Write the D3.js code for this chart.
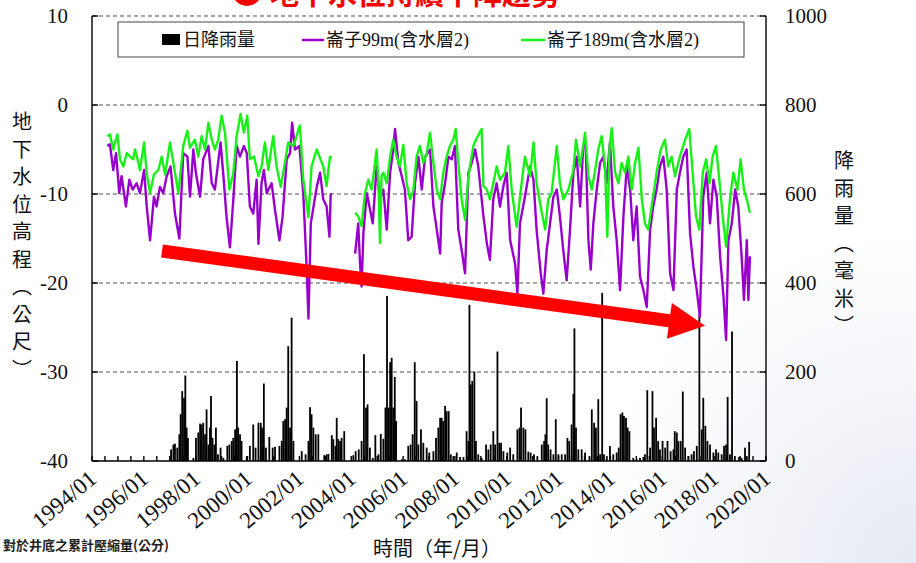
<!DOCTYPE html>
<html>
<head>
<meta charset="utf-8">
<script src="https://cdn.jsdelivr.net/npm/d3@7"></script>
<style>
body { margin: 0; background: #fff; }
svg { display: block; }
</style>
</head>
<body>
<div id="chart"></div>
<script>
// ---- data (decimal year, value) ----
// 崙子99m (含水層2), metres; null marks the 2003-2004 gap
var well99 = [
  [1994.59,-4.6],[1994.69,-4.4],[1994.82,-7.3],[1994.93,-5.4],[1995.05,-9.9],[1995.14,-8],[1995.31,-11.4],
  [1995.44,-8.4],[1995.57,-9.5],[1995.72,-8.8],[1995.85,-9.9],[1996.01,-7.3],[1996.11,-11.4],[1996.24,-15.2],
  [1996.39,-10.3],[1996.49,-11.4],[1996.62,-9.2],[1996.75,-9.9],[1996.88,-8],[1997.03,-6.9],[1997.20,-12.2],
  [1997.37,-15],[1997.52,-5.4],[1997.68,-5.8],[1997.78,-10.3],[1997.91,-5],[1998.01,-7.7],[1998.17,-10.3],
  [1998.29,-6.1],[1998.49,-4.6],[1998.62,-8.8],[1998.74,-9.5],[1998.96,-4.2],[1999.07,-8],[1999.19,-12.6],
  [1999.32,-16],[1999.45,-10.7],[1999.58,-4.6],[1999.71,-5.8],[1999.86,-4.6],[1999.97,-5.4],[2000.09,-11.4],
  [2000.22,-12.2],[2000.35,-8.4],[2000.42,-15.6],[2000.54,-8.8],[2000.63,-7.3],[2000.74,-9.9],[2000.93,-8.8],
  [2001.06,-11.8],[2001.23,-15.2],[2001.35,-12.6],[2001.51,-6.1],[2001.64,-5.4],[2001.72,-2],[2001.83,-5],
  [2002.00,-4.6],[2002.15,-9.9],[2002.28,-18.3],[2002.35,-24],[2002.44,-13.3],[2002.67,-9.2],[2002.80,-7.6],
  [2002.92,-10.6],[2003.05,-11.4],[2003.16,-14.8],[2003.21,-9.9],
  [2003.70,null],
  [2004.15,-16.7],[2004.27,-13.3],[2004.34,-17.8],[2004.40,-20.4],[2004.47,-14.4],[2004.60,-9.9],[2004.83,-13.3],
  [2004.98,-6.9],[2005.11,-10.6],[2005.24,-9.5],[2005.37,-14],[2005.50,-7.6],[2005.62,-5],[2005.69,-2.7],
  [2005.82,-6.5],[2005.95,-8],[2006.07,-9.5],[2006.20,-15.2],[2006.33,-14.8],[2006.46,-8.8],[2006.59,-5.8],
  [2006.72,-9.5],[2006.85,-5.8],[2007.04,-5],[2007.17,-11.4],[2007.30,-14],[2007.43,-16.7],[2007.49,-11],
  [2007.62,-8.8],[2007.75,-5.8],[2007.88,-6.1],[2008.00,-4.6],[2008.13,-14],[2008.26,-16.3],[2008.39,-18.9],
  [2008.52,-7.6],[2008.65,-6.5],[2008.78,-5],[2008.90,-6.9],[2009.10,-12.5],[2009.23,-15.5],[2009.35,-17.4],
  [2009.48,-10.6],[2009.61,-8.8],[2009.74,-11.4],[2009.87,-9.1],[2010.00,-7.6],[2010.13,-15.2],[2010.32,-17.8],
  [2010.41,-21.2],[2010.51,-13.3],[2010.70,-10.3],[2010.90,-6.9],[2011.03,-8.4],[2011.15,-14],[2011.31,-18.9],
  [2011.41,-21.2],[2011.54,-16.3],[2011.67,-13.3],[2011.80,-10.3],[2011.93,-9.5],[2012.05,-12.5],[2012.18,-16.3],
  [2012.31,-19.7],[2012.44,-14],[2012.57,-7.6],[2012.70,-5.8],[2012.83,-11.4],[2012.95,-4.6],[2013.04,-4.2],
  [2013.15,-15.2],[2013.24,-18.5],[2013.34,-13.3],[2013.47,-9.5],[2013.60,-6.5],[2013.73,-5.8],[2013.85,-8.8],
  [2013.98,-4.2],[2014.11,-11.4],[2014.24,-15.2],[2014.37,-20.8],[2014.50,-12.5],[2014.63,-6.9],[2014.76,-9.5],
  [2014.88,-15.2],[2015.01,-11.4],[2015.14,-19.3],[2015.27,-20.8],[2015.40,-22.7],[2015.53,-14],[2015.65,-11.4],
  [2015.78,-9.5],[2015.91,-6.9],[2016.04,-5.8],[2016.17,-9.5],[2016.30,-18.9],[2016.43,-20.8],[2016.56,-9.5],
  [2016.68,-7.6],[2016.81,-5.8],[2016.94,-5],[2017.07,-14.4],[2017.20,-18.2],[2017.33,-20.8],[2017.45,-23.8],
  [2017.58,-10.3],[2017.71,-7.6],[2017.84,-13.3],[2017.97,-8.4],[2018.10,-10.3],[2018.23,-17],[2018.36,-21.5],
  [2018.46,-26.4],[2018.55,-15.2],[2018.68,-13.3],[2018.81,-9.5],[2018.93,-11.4],[2019.06,-17],[2019.15,-21.9],
  [2019.26,-15.2],[2019.32,-21.9],[2019.38,-17]
];

// 崙子189m (含水層2), metres
var well189 = [
  [1994.59,-3.5],[1994.69,-3.3],[1994.82,-5],[1994.98,-3.3],[1995.08,-6.1],[1995.21,-6.9],[1995.34,-5.4],
  [1995.47,-5.8],[1995.59,-6.1],[1995.66,-5],[1995.79,-6.5],[1995.85,-7.3],[1996.01,-4.2],[1996.11,-7.7],
  [1996.24,-9.9],[1996.39,-7.8],[1996.56,-7.3],[1996.69,-5.8],[1996.82,-7.8],[1997.01,-4.2],[1997.16,-6.9],
  [1997.33,-9.9],[1997.52,-4.6],[1997.68,-2.9],[1997.78,-4.8],[1997.97,-3.9],[1998.10,-5.8],[1998.23,-3.5],
  [1998.36,-5],[1998.49,-2],[1998.62,-3.9],[1998.74,-5],[1998.87,-3.9],[1999.00,-1.2],[1999.13,-3.1],
  [1999.30,-9.5],[1999.45,-7.7],[1999.58,-3.5],[1999.73,-1],[1999.86,-3.1],[1999.99,-1.2],[2000.09,-6.1],
  [2000.25,-5.8],[2000.42,-8],[2000.54,-6.9],[2000.67,-4.2],[2000.80,-7.3],[2000.99,-3.5],[2001.12,-6.9],
  [2001.28,-9.2],[2001.44,-6.5],[2001.57,-4.2],[2001.77,-4.6],[2002.02,-2.3],[2002.15,-8.4],[2002.35,-12.6],
  [2002.47,-6.9],[2002.67,-5],[2002.92,-6.9],[2003.05,-9.1],[2003.18,-5.8],[2003.25,-5.9],
  [2003.70,null],
  [2004.15,-12.1],[2004.27,-12.5],[2004.40,-13.6],[2004.53,-9.9],[2004.66,-8.4],[2004.79,-9.5],[2004.98,-5],
  [2005.05,-9.1],[2005.11,-15.5],[2005.17,-8],[2005.24,-7.6],[2005.37,-8.8],[2005.50,-5.8],[2005.62,-3.9],
  [2005.75,-5.8],[2005.88,-6.9],[2006.01,-4.5],[2006.14,-8.8],[2006.27,-10.6],[2006.40,-9.5],[2006.52,-5.8],
  [2006.65,-4.6],[2006.78,-6.5],[2006.91,-5.4],[2007.04,-3.1],[2007.17,-6.5],[2007.30,-9.5],[2007.43,-10.6],
  [2007.55,-7.6],[2007.68,-5.8],[2007.81,-4.6],[2007.94,-3.9],[2008.03,-2.7],[2008.13,-6.5],[2008.26,-10.6],
  [2008.39,-12.9],[2008.52,-8],[2008.71,-4.6],[2008.81,-3.9],[2009.03,-2.7],[2009.10,-9.1],[2009.23,-9.5],
  [2009.35,-10.6],[2009.48,-8.8],[2009.61,-6.9],[2009.74,-8.4],[2009.93,-7.6],[2010.06,-4.6],[2010.19,-9.5],
  [2010.38,-13.7],[2010.51,-10.3],[2010.70,-5.8],[2010.90,-8],[2011.03,-4.2],[2011.15,-8.8],[2011.35,-12.1],
  [2011.48,-14],[2011.60,-10.6],[2011.73,-9.9],[2011.93,-4.6],[2012.05,-8.8],[2012.18,-10.6],[2012.38,-9.5],
  [2012.57,-7.3],[2012.67,-3.9],[2012.83,-6.9],[2013.02,-3.1],[2013.15,-8],[2013.28,-9.5],[2013.41,-7.3],
  [2013.53,-5],[2013.66,-3.5],[2013.79,-6.9],[2013.88,-14.8],[2013.96,-5],[2014.05,-2.6],[2014.18,-7.6],
  [2014.31,-8.8],[2014.43,-6.5],[2014.56,-7.6],[2014.69,-5.8],[2014.82,-9.5],[2014.95,-6.5],[2015.08,-4.8],
  [2015.21,-10.6],[2015.33,-13.3],[2015.46,-14],[2015.59,-11.4],[2015.78,-7.6],[2015.94,-5],[2016.10,-3.9],
  [2016.23,-6.9],[2016.36,-5.8],[2016.49,-8],[2016.68,-5.8],[2016.88,-3.9],[2017.04,-2.7],[2017.17,-7.6],
  [2017.30,-12.5],[2017.43,-14],[2017.56,-7.6],[2017.69,-6.1],[2017.82,-8.8],[2017.94,-5.8],[2018.07,-4.6],
  [2018.20,-8.4],[2018.33,-12.5],[2018.46,-15.9],[2018.61,-10.6],[2018.74,-7.6],[2018.90,-9.5],[2019.02,-6.1],
  [2019.15,-9.5],[2019.26,-10.6],[2019.38,-12.1]
];

// 日降雨量, mm
var rainfall = [
  [1997.05,26],[1997.14,37],[1997.20,39],[1997.29,30],[1997.37,60],[1997.42,105],[1997.48,157],[1997.55,142],
  [1997.60,192],[1997.65,75],[1997.70,52],[1997.91,7],[1998.01,52],[1998.10,64],[1998.17,84],[1998.23,82],
  [1998.29,86],[1998.36,60],[1998.42,116],[1998.49,37],[1998.55,75],[1998.59,146],[1998.65,52],[1998.72,37],
  [1998.78,75],[1998.86,15],[1998.96,30],[1999.07,7],[1999.22,34],[1999.30,37],[1999.39,45],[1999.45,52],
  [1999.52,71],[1999.59,225],[1999.64,75],[1999.71,60],[1999.77,45],[1999.97,11],[2000.09,34],[2000.22,82],
  [2000.31,30],[2000.42,86],[2000.51,86],[2000.56,75],[2000.63,174],[2000.71,30],[2000.84,54],[2000.97,30],
  [2001.06,32],[2001.23,34],[2001.32,45],[2001.38,90],[2001.45,94],[2001.51,120],[2001.57,258],[2001.64,75],
  [2001.70,322],[2001.77,45],[2002.09,22],[2002.24,15],[2002.35,45],[2002.41,121],[2002.47,105],[2002.54,75],
  [2002.63,60],[2002.73,60],[2002.96,13],[2003.05,15],[2003.12,16],[2003.25,58],[2003.31,49],[2003.39,34],
  [2003.44,97],[2003.50,49],[2003.57,45],[2003.63,52],[2003.73,67],[2004.08,13],[2004.17,22],[2004.29,26],
  [2004.40,45],[2004.49,240],[2004.57,120],[2004.63,127],[2004.72,30],[2004.83,7],[2004.93,58],[2005.05,15],
  [2005.14,61],[2005.24,50],[2005.32,120],[2005.38,371],[2005.44,120],[2005.50,222],[2005.56,232],[2005.62,120],
  [2005.68,189],[2005.73,90],[2005.95,4],[2006.07,4],[2006.20,34],[2006.29,37],[2006.37,60],[2006.45,222],
  [2006.52,135],[2006.59,37],[2006.69,71],[2006.78,41],[2006.91,30],[2007.01,19],[2007.17,22],[2007.27,52],
  [2007.36,75],[2007.43,97],[2007.49,97],[2007.55,90],[2007.62,124],[2007.68,112],[2007.76,112],[2007.84,15],
  [2007.94,11],[2008.07,19],[2008.20,9],[2008.33,9],[2008.45,67],[2008.52,45],[2008.56,351],[2008.61,172],
  [2008.67,180],[2008.75,201],[2008.81,45],[2008.90,15],[2009.03,7],[2009.20,37],[2009.29,26],[2009.38,37],
  [2009.48,67],[2009.55,37],[2009.64,246],[2009.71,41],[2009.78,41],[2009.87,22],[2010.02,19],[2010.13,30],
  [2010.25,15],[2010.41,71],[2010.49,75],[2010.55,120],[2010.64,75],[2010.72,71],[2010.83,21],[2010.92,19],
  [2011.05,15],[2011.18,11],[2011.35,37],[2011.44,45],[2011.49,60],[2011.54,141],[2011.60,37],[2011.69,26],
  [2011.80,15],[2011.89,94],[2011.99,15],[2012.12,15],[2012.25,15],[2012.34,52],[2012.41,45],[2012.50,82],
  [2012.57,151],[2012.61,298],[2012.67,75],[2012.76,26],[2012.89,26],[2013.02,19],[2013.19,11],[2013.28,116],
  [2013.37,86],[2013.44,75],[2013.53,139],[2013.60,15],[2013.68,378],[2013.75,15],[2013.86,11],[2013.98,34],
  [2014.11,15],[2014.24,19],[2014.32,30],[2014.39,105],[2014.46,109],[2014.52,101],[2014.60,97],[2014.66,75],
  [2014.73,67],[2014.88,7],[2015.01,4],[2015.14,7],[2015.27,9],[2015.33,15],[2015.42,159],[2015.53,30],
  [2015.62,157],[2015.68,75],[2015.76,97],[2015.84,45],[2015.91,26],[2016.01,45],[2016.11,30],[2016.20,45],
  [2016.32,22],[2016.43,26],[2016.48,67],[2016.56,64],[2016.62,45],[2016.71,45],[2016.79,156],[2016.88,30],
  [2017.01,11],[2017.13,15],[2017.22,22],[2017.33,34],[2017.43,330],[2017.52,71],[2017.58,142],[2017.66,79],
  [2017.74,45],[2017.84,37],[2017.97,19],[2018.07,26],[2018.16,19],[2018.29,15],[2018.38,34],[2018.46,37],
  [2018.52,144],[2018.61,15],[2018.69,291],[2018.80,11],[2018.96,9],[2019.06,7],[2019.19,30],[2019.26,11],
  [2019.35,43]
];

var levelTicks = [-40, -30, -20, -10, 0, 10];
var rainTicks = [0, 200, 400, 600, 800, 1000];
var yearLabels = [1994, 1996, 1998, 2000, 2002, 2004, 2006, 2008, 2010, 2012, 2014, 2016, 2018, 2020];
var leftTitle = ['地', '下', '水', '位', '高', '程', '︵', '公', '尺', '︶'];
var rightTitle = ['降', '雨', '量', '︵', '毫', '米', '︶'];
// trend arrow, in (year, metres)
var trendFrom = [1996.70, -16.4], trendTo = [2017.65, -24.8];

// ---- setup ----
var W = 916, H = 563;
var plot = {left: 92, right: 766, top: 16, bottom: 461};
var serif = "'Liberation Serif', 'Times New Roman', 'Noto Sans CJK TC', serif";
var cjk = "'Noto Sans CJK TC', 'Noto Sans CJK SC', sans-serif";

var x = d3.scaleLinear().domain([1994, 2020]).range([plot.left, plot.right]);
var yLevel = d3.scaleLinear().domain([-40, 10]).range([plot.bottom, plot.top]);
var yRain = d3.scaleLinear().domain([0, 1000]).range([plot.bottom, plot.top]);

var svg = d3.select('#chart').append('svg')
    .attr('width', W)
    .attr('height', H);

// faint slide background fading in from the lower right corner
var defs = svg.append('defs');
var grad = defs.append('radialGradient').attr('id', 'bg')
    .attr('gradientUnits', 'userSpaceOnUse')
    .attr('cx', W).attr('cy', H).attr('r', 330);
grad.append('stop').attr('offset', '0%').attr('stop-color', '#e6eaf3');
grad.append('stop').attr('offset', '100%').attr('stop-color', '#ffffff');
svg.append('rect').attr('x', 0).attr('y', 0).attr('width', W).attr('height', H).attr('fill', 'url(#bg)');

// title, mostly cut off at the top
svg.append('circle').attr('cx', 247).attr('cy', -9).attr('r', 15).attr('fill', '#f20000');
svg.append('text')
    .attr('x', 270).attr('y', 5)
    .attr('font-family', cjk).attr('font-size', 29).attr('font-weight', 'bold')
    .attr('fill', '#f20000')
    .text('地下水位持續下降趨勢');

// ---- grid ----
svg.append('g').selectAll('line')
    .data(levelTicks.filter(function(d) { return d > -40; }))
    .enter().append('line')
    .attr('x1', plot.left).attr('x2', plot.right)
    .attr('y1', function(d) { return yLevel(d); })
    .attr('y2', function(d) { return yLevel(d); })
    .attr('stroke', '#8a8a8a')
    .attr('stroke-width', 1.3)
    .attr('stroke-dasharray', '4,3');

// ---- rain bars ----
svg.append('g').selectAll('rect')
    .data(rainfall)
    .enter().append('rect')
    .attr('x', function(d) { return x(d[0]) - 0.9; })
    .attr('width', 1.8)
    .attr('y', function(d) { return yRain(d[1]); })
    .attr('height', function(d) { return yRain(0) - yRain(d[1]); })
    .attr('fill', '#000');

// ---- level lines ----
var line = d3.line()
    .defined(function(d) { return d[1] !== null; })
    .x(function(d) { return x(d[0]); })
    .y(function(d) { return yLevel(d[1]); });

svg.append('path').datum(well99)
    .attr('d', line)
    .attr('fill', 'none')
    .attr('stroke', '#9a00cc')
    .attr('stroke-width', 2.4)
    .attr('stroke-linejoin', 'round');

svg.append('path').datum(well189)
    .attr('d', line)
    .attr('fill', 'none')
    .attr('stroke', '#18f018')
    .attr('stroke-width', 2.4)
    .attr('stroke-linejoin', 'round');

// ---- axes frame ----
var frame = svg.append('g').attr('stroke', '#000').attr('stroke-width', 1.4);
frame.append('line').attr('x1', plot.left).attr('x2', plot.left).attr('y1', plot.top).attr('y2', plot.bottom);
frame.append('line').attr('x1', plot.right).attr('x2', plot.right).attr('y1', plot.top).attr('y2', plot.bottom);
frame.append('line').attr('x1', plot.left).attr('x2', plot.right).attr('y1', plot.bottom).attr('y2', plot.bottom);

frame.selectAll('.lt').data(levelTicks).enter().append('line')
    .attr('x1', plot.left).attr('x2', plot.left + 6)
    .attr('y1', function(d) { return yLevel(d); })
    .attr('y2', function(d) { return yLevel(d); });
frame.selectAll('.rt').data(rainTicks).enter().append('line')
    .attr('x1', plot.right - 6).attr('x2', plot.right)
    .attr('y1', function(d) { return yRain(d); })
    .attr('y2', function(d) { return yRain(d); });
frame.selectAll('.bt').data(d3.range(1994, 2020.01, 0.5)).enter().append('line')
    .attr('x1', function(d) { return x(d); })
    .attr('x2', function(d) { return x(d); })
    .attr('y1', plot.bottom).attr('y2', plot.bottom - 5);

// tick labels
svg.append('g').selectAll('text').data(levelTicks).enter().append('text')
    .attr('x', 68)
    .attr('y', function(d) { return yLevel(d); })
    .attr('dy', '0.35em')
    .attr('text-anchor', 'end')
    .attr('font-family', serif).attr('font-size', 21).attr('fill', '#111')
    .text(function(d) { return d; });

svg.append('g').selectAll('text').data(rainTicks).enter().append('text')
    .attr('x', 785)
    .attr('y', function(d) { return yRain(d); })
    .attr('dy', '0.35em')
    .attr('font-family', serif).attr('font-size', 21).attr('fill', '#111')
    .text(function(d) { return d; });

svg.append('g').selectAll('text').data(yearLabels).enter().append('text')
    .attr('transform', function(d) { return 'translate(' + (x(d) + 6) + ',' + (plot.bottom + 20) + ') rotate(-40)'; })
    .attr('text-anchor', 'end')
    .attr('font-family', serif).attr('font-size', 23).attr('fill', '#111')
    .text(function(d) { return d + '/01'; });

// axis titles
svg.append('g').selectAll('text').data(leftTitle).enter().append('text')
    .attr('x', 22)
    .attr('y', function(d, i) { return 122 + i * 27.5; })
    .attr('dy', '0.35em')
    .attr('text-anchor', 'middle')
    .attr('font-family', cjk).attr('font-size', 20).attr('fill', '#111')
    .text(function(d) { return d; });

svg.append('g').selectAll('text').data(rightTitle).enter().append('text')
    .attr('x', 844)
    .attr('y', function(d, i) { return 161 + i * 27.5; })
    .attr('dy', '0.35em')
    .attr('text-anchor', 'middle')
    .attr('font-family', cjk).attr('font-size', 20).attr('fill', '#111')
    .text(function(d) { return d; });

svg.append('text')
    .attr('x', 437).attr('y', 549).attr('dy', '0.35em')
    .attr('text-anchor', 'middle')
    .attr('font-family', cjk).attr('font-size', 20).attr('fill', '#111')
    .text('時間（年/月）');

svg.append('text')
    .attr('x', 3).attr('y', 545).attr('dy', '0.35em')
    .attr('font-family', cjk).attr('font-size', 13).attr('font-weight', 'bold').attr('fill', '#222')
    .text('對於井底之累計壓縮量(公分)');

// ---- legend ----
var legend = svg.append('g');
legend.append('rect')
    .attr('x', 118).attr('y', 22).attr('width', 626).attr('height', 35)
    .attr('fill', '#fff').attr('stroke', '#444').attr('stroke-width', 1);
legend.append('rect').attr('x', 162).attr('y', 34).attr('width', 18).attr('height', 11).attr('fill', '#000');
legend.append('line').attr('x1', 302).attr('x2', 324).attr('y1', 40).attr('y2', 40)
    .attr('stroke', '#9a00cc').attr('stroke-width', 2.5);
legend.append('line').attr('x1', 521).attr('x2', 545).attr('y1', 40).attr('y2', 40)
    .attr('stroke', '#18f018').attr('stroke-width', 2.5);
legend.selectAll('text').data([
    {x: 183, t: '日降雨量'},
    {x: 326, t: '崙子99m(含水層2)'},
    {x: 547, t: '崙子189m(含水層2)'}
]).enter().append('text')
    .attr('x', function(d) { return d.x; })
    .attr('y', 40).attr('dy', '0.35em')
    .attr('font-family', serif).attr('font-size', 18).attr('fill', '#111')
    .text(function(d) { return d.t; });

// ---- trend arrow ----
var p0 = [x(trendFrom[0]), yLevel(trendFrom[1])];
var p1 = [x(trendTo[0]), yLevel(trendTo[1])];
var len = Math.hypot(p1[0] - p0[0], p1[1] - p0[1]);
var ux = (p1[0] - p0[0]) / len, uy = (p1[1] - p0[1]) / len;
var nx = -uy, ny = ux;
var headLen = 36, headHalf = 18, shaftHalf = 6.5;
var base = [p1[0] - ux * headLen, p1[1] - uy * headLen];
var arrowPts = [
    [p0[0] + nx * shaftHalf, p0[1] + ny * shaftHalf],
    [base[0] + nx * shaftHalf, base[1] + ny * shaftHalf],
    [base[0] + nx * headHalf, base[1] + ny * headHalf],
    p1,
    [base[0] - nx * headHalf, base[1] - ny * headHalf],
    [base[0] - nx * shaftHalf, base[1] - ny * shaftHalf],
    [p0[0] - nx * shaftHalf, p0[1] - ny * shaftHalf]
];
svg.append('path')
    .attr('d', 'M' + arrowPts.map(function(p) { return p.join(','); }).join('L') + 'Z')
    .attr('fill', '#ff0000');
</script>
</body>
</html>
